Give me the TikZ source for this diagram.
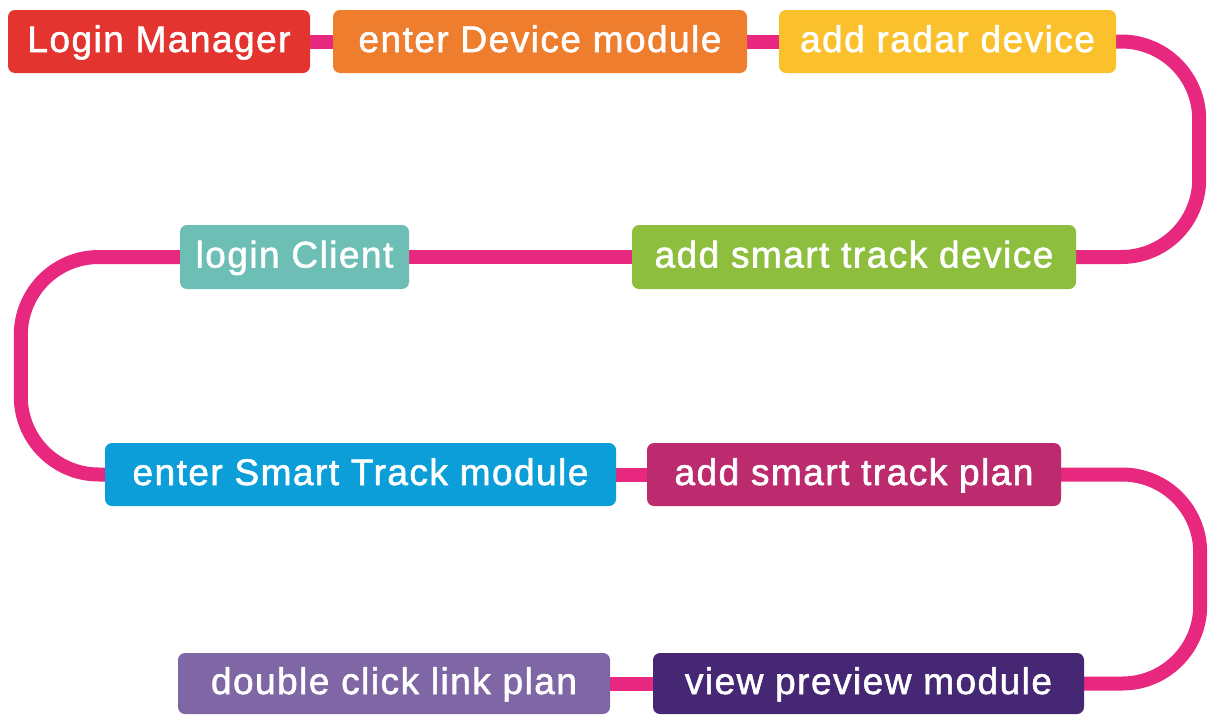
\documentclass[tikz,border=0pt]{standalone}
\usepackage{fontspec}
\setmainfont{Liberation Sans}[LetterSpace=4,FakeBold=1.6]
\usetikzlibrary{backgrounds}
\definecolor{cRed}{HTML}{E3342F}
\definecolor{cOrange}{HTML}{EE7D2E}
\definecolor{cYellow}{HTML}{FBC12D}
\definecolor{cGreen}{HTML}{8DBE3E}
\definecolor{cTeal}{HTML}{6DBEB4}
\definecolor{cBlue}{HTML}{0B9ED8}
\definecolor{cMagenta}{HTML}{BC2B6E}
\definecolor{cDark}{HTML}{452773}
\definecolor{cLav}{HTML}{7E67A4}
\definecolor{cLine}{HTML}{E8287F}
\begin{document}
\begin{tikzpicture}[x=1pt,y=-1pt,
  stepbox/.style={rectangle, rounded corners=7pt, inner sep=0pt, text=white,
    font=\fontsize{37}{40}\selectfont, minimum height=63pt,
    text height=27pt, text depth=6pt},
  link/.style={draw=cLine, line width=14pt},
  curve/.style={link, rounded corners=78pt}]
\useasboundingbox (0,0) rectangle (1209,715);
\node[stepbox, fill=cRed, minimum width=302pt] (b1) at (159,41.5) {Login Manager};
\node[stepbox, fill=cOrange, minimum width=414pt] (b2) at (540,41.5) {enter Device module};
\node[stepbox, fill=cYellow, minimum width=337pt] (b3) at (947.5,41.5) {add radar device};
\node[stepbox, fill=cGreen, minimum width=444pt, minimum height=64pt] (b4) at (854,257) {add smart track device};
\node[stepbox, fill=cTeal, minimum width=229pt, minimum height=64pt] (b5) at (294.5,257) {login Client};
\node[stepbox, fill=cBlue, minimum width=511pt] (b6) at (360.5,474.5) {enter Smart Track module};
\node[stepbox, fill=cMagenta, minimum width=414pt] (b7) at (854,474.5) {add smart track plan};
\node[stepbox, fill=cDark, minimum width=431pt, minimum height=61pt] (b8) at (868.5,683.5) {view preview module};
\node[stepbox, fill=cLav, minimum width=432pt, minimum height=61pt] (b9) at (394,683.5) {double click link plan};
\begin{pgfonlayer}{background}
\draw[link] (b1.east) -- (b2.west);
\draw[link] (b2.east) -- (b3.west);
\draw[curve] (b3.east) -- ++(83,0) |- (b4.east);
\draw[link] (b4.west) -- (b5.east);
\draw[curve] (b5.west) -- ++(-159,0) |- (b6.west);
\draw[link] (b6.east) -- (b7.west);
\draw[curve] (b7.east) -- ++(139,0) |- (b8.east);
\draw[link] (b8.west) -- (b9.east);
\end{pgfonlayer}
\end{tikzpicture}
\end{document}
